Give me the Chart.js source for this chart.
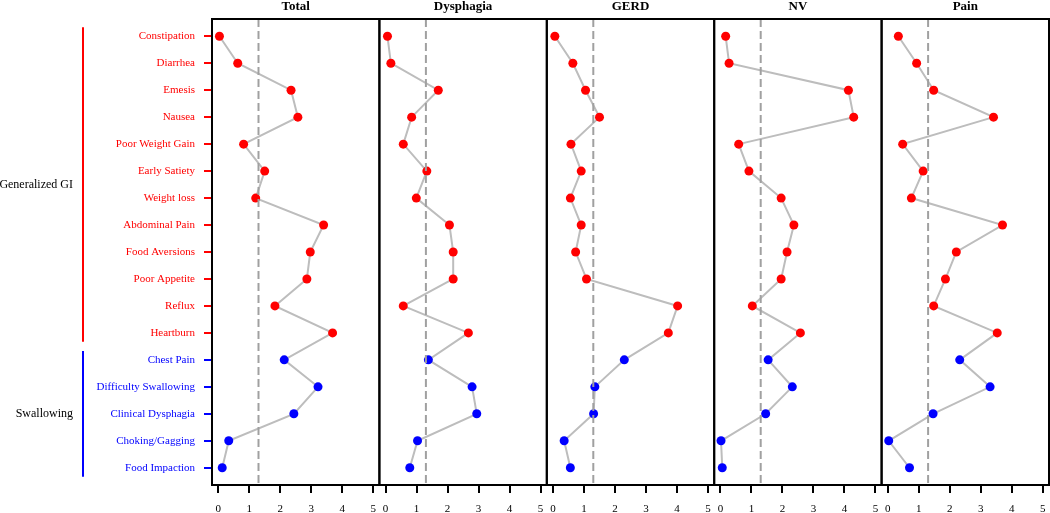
<!DOCTYPE html>
<html lang="en">
<head>
  <meta charset="UTF-8" />
  <title>Symptom scores by group</title>
  <style>
    html, body {
      margin: 0;
      padding: 0;
      background: #fff;
      overflow: hidden;
    }
    #wrap {
      position: relative;
      width: 1050px;
      height: 513px;
      overflow: hidden;
    }
    canvas {
      position: absolute;
      top: 0;
    }
  </style>
</head>
<body>
  <div id="wrap">
    <canvas id="p0" width="400" height="513" style="left:0px"></canvas>
    <canvas id="p1" width="190" height="513" style="left:369px"></canvas>
    <canvas id="p2" width="190" height="513" style="left:536px"></canvas>
    <canvas id="p3" width="190" height="513" style="left:704px"></canvas>
    <canvas id="p4" width="190" height="513" style="left:871px"></canvas>
  </div>

  <script src="https://cdn.jsdelivr.net/npm/chart.js"></script>

  <script>
    // symptom list, top to bottom
    const categories = [
      'Constipation', 'Diarrhea', 'Emesis', 'Nausea', 'Poor Weight Gain',
      'Early Satiety', 'Weight loss', 'Abdominal Pain', 'Food Aversions',
      'Poor Appetite', 'Reflux', 'Heartburn', 'Chest Pain',
      'Difficulty Swallowing', 'Clinical Dysphagia', 'Choking/Gagging', 'Food Impaction'
    ];

    const panelTitles = ['Total', 'Dysphagia', 'GERD', 'NV', 'Pain'];

    const totalVals     = [0.04, 0.63, 2.35, 2.57, 0.82, 1.50, 1.21, 3.40, 2.97, 2.86, 1.83, 3.69, 2.13, 3.22, 2.44, 0.34, 0.13];
    const dysphagiaVals = [0.06, 0.17, 1.70, 0.84, 0.57, 1.33, 0.99, 2.06, 2.18, 2.18, 0.57, 2.67, 1.38, 2.79, 2.94, 1.03, 0.78];
    const gerdVals      = [0.06, 0.64, 1.05, 1.50, 0.58, 0.91, 0.56, 0.91, 0.73, 1.08, 4.02, 3.72, 2.30, 1.35, 1.31, 0.36, 0.56];
    const nvVals        = [0.17, 0.28, 4.13, 4.30, 0.59, 0.92, 1.96, 2.37, 2.15, 1.96, 1.03, 2.58, 1.54, 2.32, 1.46, 0.02, 0.06];
    const painVals      = [0.34, 0.93, 1.48, 3.41, 0.48, 1.14, 0.76, 3.70, 2.21, 1.86, 1.48, 3.53, 2.32, 3.30, 1.46, 0.03, 0.70];

    // symptom groups (index of first / last symptom)
    const groupNames  = ['Generalized GI', 'Swallowing'];
    const groupFirst  = [0, 12];
    const groupLast   = [11, 16];
    const groupColors = ['#ff0000', '#0000ff'];

    const xTicks = [0, 1, 2, 3, 4, 5];
    const cutoff = 1.3;

    const allVals = [totalVals, dysphagiaVals, gerdVals, nvVals, painVals];

    // layout bits
    const panelLeft = [212, 379.4, 546.8, 714.2, 881.6];
    const panelWidth = 167.4;
    const serif = "'Liberation Serif', 'DejaVu Serif', serif";

    function catColor(i) {
      for (let g = 0; g < groupNames.length; g++) {
        if (i >= groupFirst[g] && i <= groupLast[g]) return groupColors[g];
      }
      return '#000';
    }

    // box round the plot area + panel title
    const frame = {
      id: 'frame',
      afterDatasetsDraw(chart) {
        const { ctx, chartArea: a } = chart;
        ctx.save();
        ctx.strokeStyle = '#000';
        ctx.lineWidth = 2;
        ctx.strokeRect(a.left, a.top, a.right - a.left, a.bottom - a.top);
        ctx.fillStyle = '#000';
        ctx.font = 'bold 13px ' + serif;
        ctx.textAlign = 'center';
        ctx.textBaseline = 'alphabetic';
        ctx.fillText(chart.options.plugins.frame.title, (a.left + a.right) / 2, 10);
        ctx.restore();
      }
    };

    // group brackets and names on the left of the first panel
    const groups = {
      id: 'groups',
      afterDraw(chart) {
        if (!chart.options.plugins.groups.show) return;
        const { ctx } = chart;
        const y = chart.scales.y;
        ctx.save();
        groupNames.forEach((name, g) => {
          const top = y.getPixelForValue(groupFirst[g] + 1 - 0.33);
          const bot = y.getPixelForValue(groupLast[g] + 1 + 0.33);
          ctx.strokeStyle = groupColors[g];
          ctx.lineWidth = 2;
          ctx.beginPath();
          ctx.moveTo(83, top);
          ctx.lineTo(83, bot);
          ctx.stroke();
          ctx.fillStyle = '#000';
          ctx.font = '12px ' + serif;
          ctx.textAlign = 'right';
          ctx.textBaseline = 'middle';
          ctx.fillText(name, 73, (top + bot) / 2);
        });
        ctx.restore();
      }
    };

    function makePanel(idx) {
      const vals = allVals[idx];
      const first = idx === 0;
      const canvas = document.getElementById('p' + idx);
      const cLeft = parseFloat(canvas.style.left);
      const padLeft = first ? 0 : panelLeft[idx] - cLeft;
      const padRight = canvas.width - (panelLeft[idx] + panelWidth - cLeft);

      const points = vals.map((v, i) => ({ x: v, y: i + 1 }));
      const refLine = [{ x: cutoff, y: 0.36 }, { x: cutoff, y: 17.64 }];

      return new Chart(canvas.getContext('2d'), {
        type: 'line',
        data: {
          datasets: [
            {
              data: refLine,
              borderColor: '#a0a0a0',
              borderWidth: 2,
              borderDash: [8, 4],
              pointRadius: 0
            },
            {
              data: points,
              borderColor: '#bdbdbd',
              borderWidth: 2,
              tension: 0,
              pointRadius: 4.5,
              pointBorderWidth: 0,
              pointBackgroundColor: vals.map((v, i) => catColor(i)),
              pointBorderColor: vals.map((v, i) => catColor(i))
            }
          ]
        },
        options: {
          responsive: false,
          animation: false,
          events: [],
          layout: {
            padding: { top: 19, bottom: 0, left: padLeft, right: padRight }
          },
          scales: {
            x: {
              type: 'linear',
              min: -0.2,
              max: 5.2,
              afterBuildTicks: s => { s.ticks = xTicks.map(v => ({ value: v })); },
              afterFit: s => { s.height = 28; },
              border: { display: false },
              grid: {
                drawOnChartArea: false,
                tickLength: 8,
                tickColor: '#000',
                lineWidth: 2
              },
              ticks: {
                color: '#000',
                padding: 10,
                maxRotation: 0,
                autoSkip: false,
                font: { family: serif, size: 11 }
              }
            },
            y: {
              type: 'linear',
              display: first,
              reverse: true,
              min: 0.36,
              max: 17.64,
              afterBuildTicks: s => { s.ticks = categories.map((c, i) => ({ value: i + 1 })); },
              // only the first panel carries the symptom labels
              afterFit: s => { s.width = first ? 212 : 0; },
              border: { display: false },
              grid: {
                drawOnChartArea: false,
                tickLength: 8,
                lineWidth: 2,
                tickColor: c => catColor(c.index)
              },
              ticks: {
                autoSkip: false,
                padding: 9,
                color: c => catColor(c.index),
                font: { family: serif, size: 11 },
                callback: v => categories[v - 1]
              }
            }
          },
          plugins: {
            legend: { display: false },
            tooltip: { enabled: false },
            frame: { title: panelTitles[idx] },
            groups: { show: first }
          }
        },
        plugins: [frame, groups]
      });
    }

    panelTitles.forEach((t, i) => makePanel(i));
  </script>
</body>
</html>
